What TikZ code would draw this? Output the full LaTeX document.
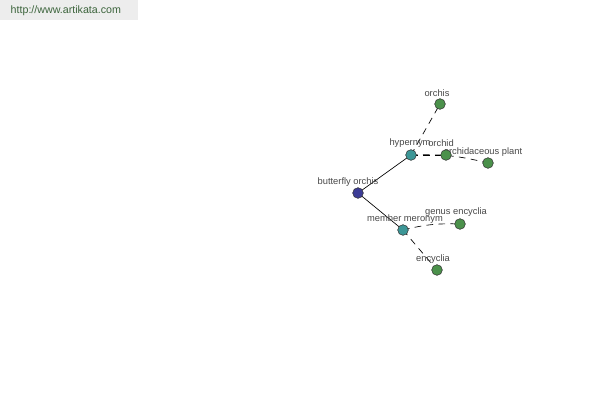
\documentclass[tikz,border=0pt]{standalone}
\usepackage{fontspec}
\setmainfont{Liberation Sans}
\definecolor{hubc}{RGB}{60,60,150}
\definecolor{relc}{RGB}{60,150,150}
\definecolor{leafc}{RGB}{75,145,75}
\definecolor{wmc}{RGB}{60,100,60}
\begin{document}
\begin{tikzpicture}[x=0.75pt,y=-0.75pt,
  dot/.style={circle,draw=black!80,line width=0.4pt,minimum size=8pt,inner sep=0pt},
  hub/.style={dot,fill=hubc},
  rel/.style={dot,fill=relc},
  leaf/.style={dot,fill=leafc},
  lbl/.style={font=\fontsize{7}{8}\selectfont,text=black!72,inner sep=0.5pt},
  solidedge/.style={draw=black,line width=0.5pt},
  dashedge/.style={draw=black,line width=0.5pt,dashed,dash pattern=on 5pt off 4pt}]
\useasboundingbox (0,0) rectangle (600,400);
\fill[black!7] (0,0) rectangle (138,20);
\node[font=\fontsize{8}{9}\selectfont,text=wmc,anchor=west] (wm) at (6,11) {http://www.artikata.com};
% node coordinates
\coordinate (pB) at (358,193);
\coordinate (pH) at (411,155);
\coordinate (pO) at (446,155);
\coordinate (pOP) at (488,163);
\coordinate (pOs) at (440,104);
\coordinate (pM) at (403,230);
\coordinate (pG) at (460,224);
\coordinate (pE) at (437,270);
% edges
\draw[solidedge] (pB) -- (pH);
\draw[solidedge] (pB) -- (pM);
\draw[dashedge] (pH) -- (pOs);
\draw[dashedge] (pH) -- (pO);
\draw[dashedge] (pH) to[bend left=8] (pOP);
\draw[dashedge] (pM) to[bend left=8] (pG);
\draw[dashedge] (pM) -- (pE);
% labels
\node[lbl] (lOs) at (437,93) {orchis};
\node[lbl] (lH) at (410,143) {hypernym};
\node[lbl] (lO) at (441,143) {orchid};
\node[lbl] (lOP) at (483,152) {orchidaceous plant};
\node[lbl] (lB) at (348,182) {butterfly orchis};
\node[lbl] (lG) at (456,212) {genus encyclia};
\node[lbl] (lM) at (405,219) {member meronym};
\node[lbl] (lE) at (433,259) {encyclia};
% nodes
\node[hub] (B) at (pB) {};
\node[rel] (H) at (pH) {};
\node[rel] (M) at (pM) {};
\node[leaf] (O) at (pO) {};
\node[leaf] (OP) at (pOP) {};
\node[leaf] (Os) at (pOs) {};
\node[leaf] (G) at (pG) {};
\node[leaf] (E) at (pE) {};
\end{tikzpicture}
\end{document}
